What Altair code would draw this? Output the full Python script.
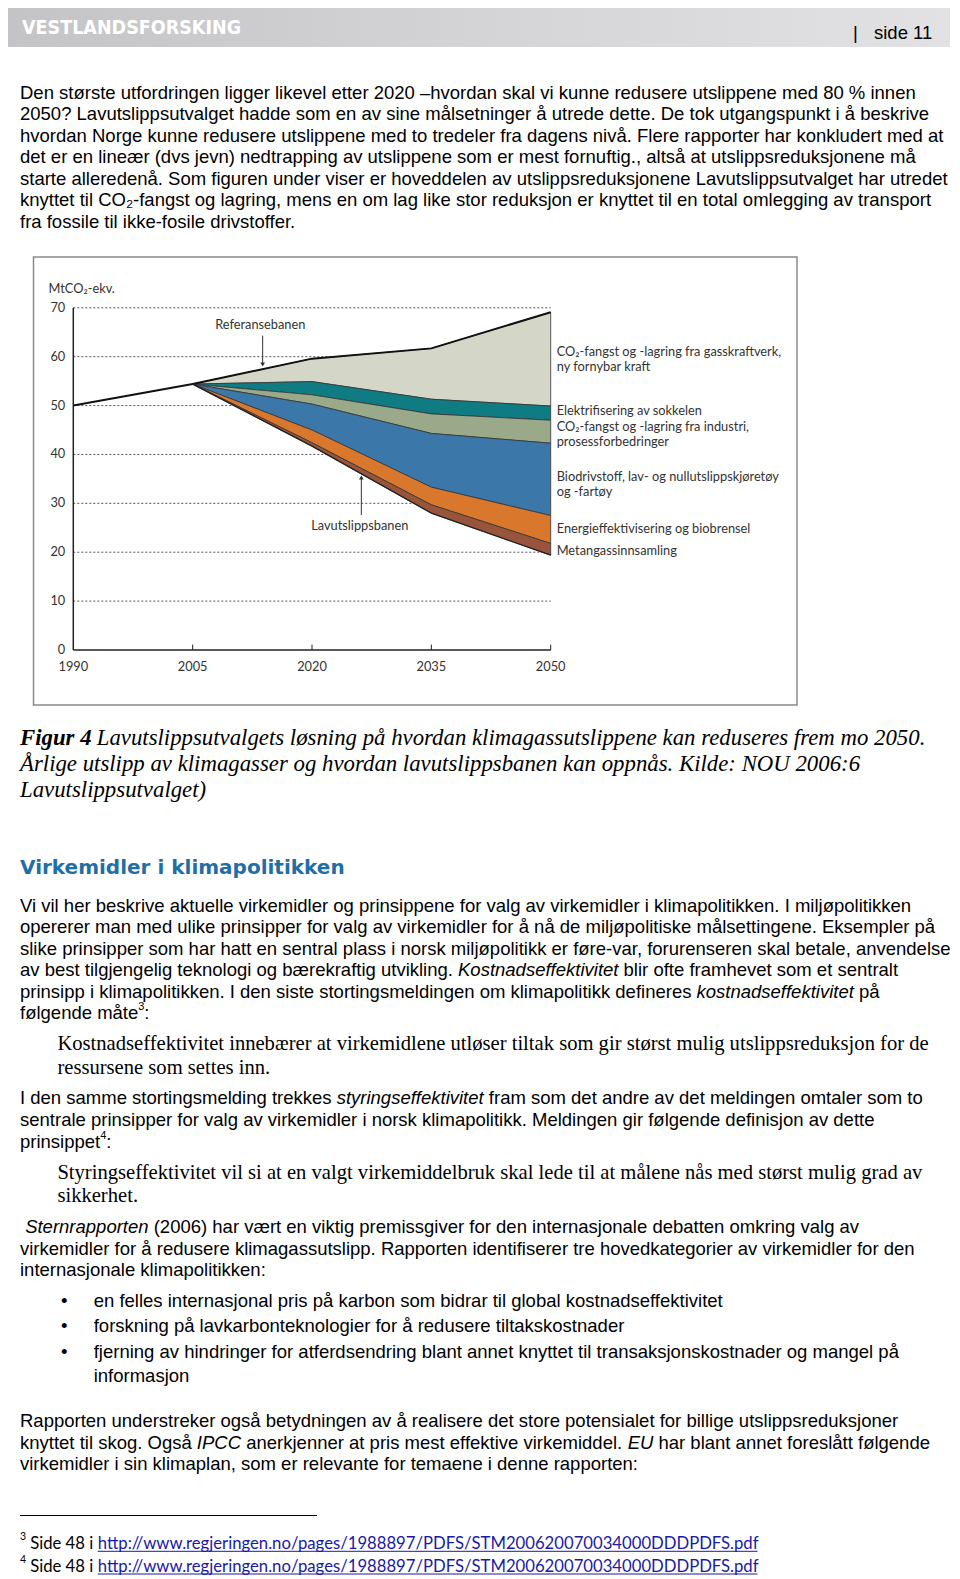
import altair as alt
import pandas as pd

# ---------------- chart data ----------------
years_ref = [1990, 2005, 2020, 2035, 2050]
referansebanen = [50.0, 54.4, 59.6, 61.7, 69.1]

years_path = [2005, 2020, 2035, 2050]
top_gass = [54.4, 59.6, 61.7, 69.1]
top_sokkel = [54.4, 54.9, 51.3, 49.9]
top_industri = [54.4, 52.2, 48.3, 47.0]
top_transport = [54.4, 50.3, 44.3, 42.3]
top_energi = [54.4, 45.0, 33.3, 27.5]
top_metan = [54.4, 42.4, 29.7, 21.8]
lavutslippsbanen = [54.4, 41.7, 28.0, 19.4]

band_names = ["gass", "sokkel", "industri", "transport", "energi", "metan"]
band_colors = ["#d4d7c7", "#0f7c84", "#9ba98b", "#3b77a8", "#d9782d", "#98553b"]

y_ticks = [0, 10, 20, 30, 40, 50, 60, 70]
x_ticks = [1990, 2005, 2020, 2035, 2050]

right_labels = [
    ["CO₂-fangst og -lagring fra gasskraftverk,", "ny fornybar kraft"],
    ["Elektrifisering av sokkelen"],
    ["CO₂-fangst og -lagring fra industri,", "prosessforbedringer"],
    ["Biodrivstoff, lav- og nullutslippskjøretøy", "og -fartøy"],
    ["Energieffektivisering og biobrensel"],
    ["Metangassinnsamling"],
]

# ---------------- page text ----------------
header_logo = "VESTLANDSFORSKING"
header_page = "side 11"

para1 = [
    "Den største utfordringen ligger likevel etter 2020 –hvordan skal vi kunne redusere utslippene med 80 % innen",
    "2050? Lavutslippsutvalget hadde som en av sine målsetninger å utrede dette. De tok utgangspunkt i å beskrive",
    "hvordan Norge kunne redusere utslippene med to tredeler fra dagens nivå. Flere rapporter har konkludert med at",
    "det er en lineær (dvs jevn) nedtrapping av utslippene som er mest fornuftig., altså at utslippsreduksjonene må",
    "starte alleredenå. Som figuren under viser er hoveddelen av utslippsreduksjonene Lavutslippsutvalget har utredet",
    "knyttet til CO₂-fangst og lagring, mens en om lag like stor reduksjon er knyttet til en total omlegging av transport",
    "fra fossile til ikke-fosile drivstoffer.",
]

caption_bold = "Figur 4"
caption = [
    "Lavutslippsutvalgets løsning på hvordan klimagassutslippene kan reduseres frem mo 2050.",
    "Årlige utslipp av klimagasser og hvordan lavutslippsbanen kan oppnås. Kilde: NOU 2006:6",
    "Lavutslippsutvalget)",
]

heading = "Virkemidler i klimapolitikken"

para2 = [
    "Vi vil her beskrive aktuelle virkemidler og prinsippene for valg av virkemidler i klimapolitikken. I miljøpolitikken",
    "opererer man med ulike prinsipper for valg av virkemidler for å nå de miljøpolitiske målsettingene. Eksempler på",
    "slike prinsipper som har hatt en sentral plass i norsk miljøpolitikk er føre-var, forurenseren skal betale, anvendelse",
]
para2_l4 = ["av best tilgjengelig teknologi og bærekraftig utvikling. ", "Kostnadseffektivitet", " blir ofte framhevet som et sentralt"]
para2_l5 = ["prinsipp i klimapolitikken. I den siste stortingsmeldingen om klimapolitikk defineres ", "kostnadseffektivitet", " på"]
para2_l6 = ["følgende måte", "3", ":"]

quote1 = [
    "Kostnadseffektivitet innebærer at virkemidlene utløser tiltak som gir størst mulig utslippsreduksjon for de",
    "ressursene som settes inn.",
]

para3_l1 = ["I den samme stortingsmelding trekkes ", "styringseffektivitet", " fram som det andre av det meldingen omtaler som to"]
para3_l2 = "sentrale prinsipper for valg av virkemidler i norsk klimapolitikk. Meldingen gir følgende definisjon av dette"
para3_l3 = ["prinsippet", "4", ":"]

quote2 = [
    "Styringseffektivitet vil si at en valgt virkemiddelbruk skal lede til at målene nås med størst mulig grad av",
    "sikkerhet.",
]

para4_l1 = [" Sternrapporten", " (2006) har vært en viktig premissgiver for den internasjonale debatten omkring valg av"]
para4_rest = [
    "virkemidler for å redusere klimagassutslipp. Rapporten identifiserer tre hovedkategorier av virkemidler for den",
    "internasjonale klimapolitikken:",
]

bullets = [
    "en felles internasjonal pris på karbon som bidrar til global kostnadseffektivitet",
    "forskning på lavkarbonteknologier for å redusere tiltakskostnader",
    "fjerning av hindringer for atferdsendring blant annet knyttet til transaksjonskostnader og mangel på",
]
bullet_cont = "informasjon"

para5_l1 = "Rapporten understreker også betydningen av å realisere det store potensialet for billige utslippsreduksjoner"
para5_l2 = ["knyttet til skog. Også ", "IPCC", " anerkjenner at pris mest effektive virkemiddel. ", "EU", " har blant annet foreslått følgende"]
para5_l3 = "virkemidler i sin klimaplan, som er relevante for temaene i denne rapporten:"

footnote_marks = ["3", "4"]
footnote_text = "Side 48 i "
footnote_link = "http://www.regjeringen.no/pages/1988897/PDFS/STM200620070034000DDDPDFS.pdf"

# ---------------- helpers ----------------
SANS = "Liberation Sans"
SERIF = "Liberation Serif"
CHART_FONT = "Lato"
BODY = 18.5
ONE = pd.DataFrame({"k": [0]})
M = 8  # page margin

# Arial / Liberation Sans advance widths (1/1000 em) used to run mixed-style segments on one line
_AW = {" ": 278, ".": 278, ",": 278, ":": 278, ";": 278, "(": 333, ")": 333, "-": 333, "–": 556,
       "%": 889, "?": 556, "a": 556, "b": 556, "c": 500, "d": 556, "e": 556, "f": 278, "g": 556,
       "h": 556, "i": 222, "j": 222, "k": 500, "l": 222, "m": 833, "n": 556, "o": 556, "p": 556,
       "q": 556, "r": 333, "s": 500, "t": 278, "u": 556, "v": 500, "w": 722, "x": 500, "y": 500,
       "z": 500, "å": 556, "ø": 611, "æ": 889, "A": 667, "B": 667, "C": 722, "D": 722, "E": 667,
       "F": 611, "G": 778, "H": 722, "I": 278, "J": 500, "K": 667, "L": 556, "M": 833, "N": 722,
       "O": 778, "P": 667, "Q": 778, "R": 722, "S": 667, "T": 611, "U": 722, "V": 667, "W": 944,
       "X": 667, "Y": 667, "Z": 611}


def tw(s, size):
    return sum(_AW.get(c, 556) for c in s) * size / 1000.0


def T(text, x, y, size=BODY, font=SANS, style="normal", weight="normal",
      color="#000000", lh=21.5, align="left"):
    """x = left page px, y = visual centre of the first line (page px)."""
    return alt.Chart(ONE).mark_text(
        text=text, font=font, fontSize=size, fontStyle=style, fontWeight=weight,
        color=color, align=align, baseline="alphabetic", lineHeight=lh,
    ).encode(x=alt.value(x - M), y=alt.value(y - M + 0.3 * size))


def flow(parts, x0, y):
    """parts: (text, style, size, dy) run one after another on a line."""
    out, x = [], x0
    for text, style, size, dy in parts:
        size = size or BODY
        lead = len(text) - len(text.lstrip(" "))
        out.append(T(text.lstrip(" "), x + tw(" " * lead, size), y + dy, size=size, style=style))
        x += tw(text, size)
    return out


def R(x1, x2, y1, y2, color="#000000", width=1.0):
    return alt.Chart(ONE).mark_rule(color=color, strokeWidth=width).encode(
        x=alt.value(x1 - M), x2=alt.value(x2 - M), y=alt.value(y1 - M), y2=alt.value(y2 - M))


# chart scales: page px of axes
X0, X1 = 73.3, 550.7   # 1990, 2050
Y0, Y70 = 650.0, 307.8  # 0, 70
xs = alt.Scale(domain=[1990, 2050], range=[X0 - M, X1 - M], nice=False, zero=False)
ys = alt.Scale(domain=[0, 70], range=[Y0 - M, Y70 - M], nice=False)


def XQ(field=None, datum=None):
    if datum is not None:
        return alt.X(datum=datum, type="quantitative", scale=xs, axis=None)
    return alt.X(field, type="quantitative", scale=xs, axis=None)


def YQ(field=None, datum=None):
    if datum is not None:
        return alt.Y(datum=datum, type="quantitative", scale=ys, axis=None)
    return alt.Y(field, type="quantitative", scale=ys, axis=None, stack=None)


layers = []

# ---------------- header ----------------
grad = alt.LinearGradient(
    gradient="linear", x1=0, x2=1, y1=0, y2=0,
    stops=[alt.GradientStop(color="#c4c4c6", offset=0),
           alt.GradientStop(color="#d4d4d6", offset=0.5),
           alt.GradientStop(color="#e2e2e4", offset=1)])
layers.append(alt.Chart(ONE).mark_rect(color=grad).encode(
    x=alt.value(0), x2=alt.value(950 - M), y=alt.value(0), y2=alt.value(47 - M)))
layers.append(T(header_logo, 22, 28, size=19.5, font="DejaVu Sans Condensed, Roboto, sans-serif",
                weight="bold", color="#ffffff"))
layers.append(T("|", 853, 33.5))
layers.append(T(header_page, 874, 33.5))

# ---------------- paragraph 1 ----------------
layers.append(T(para1, 20, 93, lh=21.5))

# ---------------- figure ----------------
layers.append(alt.Chart(ONE).mark_rect(fillOpacity=0, stroke="#8a8a8a", strokeWidth=1.5).encode(
    x=alt.value(33.5 - M), x2=alt.value(797 - M), y=alt.value(257 - M), y2=alt.value(705 - M)))

grid_df = pd.DataFrame({"v": y_ticks[1:]})
layers.append(alt.Chart(grid_df).mark_rule(color="#555555", strokeWidth=1, strokeDash=[2, 2]).encode(
    y=YQ("v"), x=XQ(datum=1990), x2=alt.X2(datum=2050)))

band_tops = [top_gass, top_sokkel, top_industri, top_transport, top_energi, top_metan]
band_bots = [top_sokkel, top_industri, top_transport, top_energi, top_metan, lavutslippsbanen]
rows = []
for name, tops, bots in zip(band_names, band_tops, band_bots):
    for yr, t, b in zip(years_path, tops, bots):
        rows.append({"year": yr, "top": t, "bottom": b, "band": name})
band_df = pd.DataFrame(rows)
layers.append(alt.Chart(band_df).mark_area(stroke="#333333", strokeWidth=0.8, fillOpacity=1, interpolate="linear").encode(
    x=XQ("year"), y=YQ("top"), y2="bottom:Q",
    color=alt.Color("band:N", scale=alt.Scale(domain=band_names, range=band_colors), legend=None)))

ref_df = pd.DataFrame({"year": years_ref, "v": referansebanen})
layers.append(alt.Chart(ref_df).mark_line(color="#111111", strokeWidth=2).encode(x=XQ("year"), y=YQ("v")))
low_df = pd.DataFrame({"year": years_path, "v": lavutslippsbanen})
layers.append(alt.Chart(low_df).mark_line(color="#222222", strokeWidth=1.3).encode(x=XQ("year"), y=YQ("v")))

# axes
layers.append(alt.Chart(ONE).mark_rule(color="#222222", strokeWidth=1.5).encode(
    x=XQ(datum=1990), y=YQ(datum=0), y2=alt.Y2(datum=70)))
layers.append(alt.Chart(ONE).mark_rule(color="#222222", strokeWidth=1.5).encode(
    x=XQ(datum=1990), x2=alt.X2(datum=2050), y=YQ(datum=0)))
xt_df = pd.DataFrame({"year": x_ticks[1:]})
layers.append(alt.Chart(xt_df).mark_rule(color="#222222", strokeWidth=1).encode(
    x=XQ("year"), y=YQ(datum=0), y2=alt.Y2(datum=1.1)))
yl_df = pd.DataFrame({"v": y_ticks})
layers.append(alt.Chart(yl_df).mark_text(font=CHART_FONT, fontSize=12.8, color="#333333", align="right",
                                         baseline="middle", dx=-8).encode(
    x=XQ(datum=1990), y=YQ("v"), text="v:Q"))
xl_df = pd.DataFrame({"year": x_ticks})
layers.append(alt.Chart(xl_df).mark_text(font=CHART_FONT, fontSize=12.8, color="#333333", align="center",
                                         baseline="middle", dy=17).encode(
    x=XQ("year"), y=YQ(datum=0), text=alt.Text("year:Q", format="d")))
layers.append(T("MtCO₂-ekv.", 48.5, 289, size=12.8, font=CHART_FONT, color="#333333"))

# annotations inside the figure
layers.append(alt.Chart(ONE).mark_text(text="Referansebanen", font=CHART_FONT, fontSize=12.8, color="#333333",
                                       align="center", baseline="middle").encode(
    x=XQ(datum=2013.5), y=YQ(datum=66.5)))
layers.append(alt.Chart(ONE).mark_rule(color="#333333", strokeWidth=1).encode(
    x=XQ(datum=2013.8), y=YQ(datum=64.3), y2=alt.Y2(datum=58.6)))
layers.append(alt.Chart(ONE).mark_point(shape="triangle-down", size=22, filled=True, color="#333333", opacity=1).encode(
    x=XQ(datum=2013.8), y=YQ(datum=58.4)))
layers.append(alt.Chart(ONE).mark_text(text="Lavutslippsbanen", font=CHART_FONT, fontSize=12.8, color="#333333",
                                       align="center", baseline="middle").encode(
    x=XQ(datum=2026.0), y=YQ(datum=25.4)))
layers.append(alt.Chart(ONE).mark_rule(color="#333333", strokeWidth=1).encode(
    x=XQ(datum=2026.2), y=YQ(datum=27.6), y2=alt.Y2(datum=35.0)))
layers.append(alt.Chart(ONE).mark_point(shape="triangle-up", size=22, filled=True, color="#333333", opacity=1).encode(
    x=XQ(datum=2026.2), y=YQ(datum=35.3)))

label_y = [61.0, 48.9, 45.7, 35.3, 24.7, 20.25]
for lines, yv in zip(right_labels, label_y):
    layers.append(alt.Chart(ONE).mark_text(text=lines, font=CHART_FONT, fontSize=12.8, color="#333333",
                                           align="left", baseline="middle", lineHeight=15).encode(
        x=XQ(datum=2050.75), y=YQ(datum=yv)))

# ---------------- caption ----------------
CAP = 22.8
layers.append(T(caption_bold, 20, 738, size=CAP, font=SERIF, style="italic", weight="bold"))
layers.append(T(caption[0], 96.7, 738, size=CAP, font=SERIF, style="italic"))
layers.append(T(caption[1:], 20, 764.3, size=CAP, font=SERIF, style="italic", lh=26.2))

# ---------------- heading ----------------
layers.append(T(heading, 20, 868, size=20, font="DejaVu Sans", weight="bold", color="#1f6ea6"))

# ---------------- paragraph 2 ----------------
L = 21.5
p2y = 906.3
layers.append(T(para2, 20, p2y, lh=L))
layers += flow([(para2_l4[0], "normal", None, 0), (para2_l4[1], "italic", None, 0),
                (para2_l4[2], "normal", None, 0)], 20, p2y + 3 * L)
layers += flow([(para2_l5[0], "normal", None, 0), (para2_l5[1], "italic", None, 0),
                (para2_l5[2], "normal", None, 0)], 20, p2y + 4 * L)
layers += flow([(para2_l6[0], "normal", None, 0), (para2_l6[1], "normal", 11, -7),
                (para2_l6[2], "normal", None, 0)], 20, p2y + 5 * L)

# quote 1
QS = 20.6
layers.append(T(quote1, 57.4, 1044.3, size=QS, font=SERIF, lh=24))

# ---------------- paragraph 3 ----------------
p3y = 1098.6
layers += flow([(para3_l1[0], "normal", None, 0), (para3_l1[1], "italic", None, 0),
                (para3_l1[2], "normal", None, 0)], 20, p3y)
layers.append(T(para3_l2, 20, p3y + L))
layers += flow([(para3_l3[0], "normal", None, 0), (para3_l3[1], "normal", 11, -7),
                (para3_l3[2], "normal", None, 0)], 20, p3y + 2 * L + 0.7)

# quote 2
layers.append(T(quote2, 57.4, 1173.2, size=QS, font=SERIF, lh=23))

# ---------------- paragraph 4 ----------------
p4y = 1227.5
layers += flow([(para4_l1[0], "italic", None, 0), (para4_l1[1], "normal", None, 0)], 20, p4y)
layers.append(T(para4_rest, 20, p4y + L, lh=L + 0.2))

# bullets
b_y = [1301.0, 1326.2, 1352.4]
for text, yy in zip(bullets, b_y):
    layers.append(T("•", 61, yy))
    layers.append(T(text, 93.7, yy))
layers.append(T(bullet_cont, 93.7, 1376.6))

# ---------------- paragraph 5 ----------------
p5y = 1421.9
layers.append(T(para5_l1, 20, p5y))
layers += flow([(para5_l2[0], "normal", None, 0), (para5_l2[1], "italic", None, 0),
                (para5_l2[2], "normal", None, 0), (para5_l2[3], "italic", None, 0),
                (para5_l2[4], "normal", None, 0)], 20, p5y + 21.1)
layers.append(T(para5_l3, 20, p5y + 42.3))

# ---------------- footnotes ----------------
layers.append(R(20, 317, 1515.5, 1515.5, color="#000000", width=1))
fn_y = [1543.8, 1566.5]
for mark, yy in zip(footnote_marks, fn_y):
    layers.append(T(mark, 20, yy - 7, size=10.5, font=CHART_FONT))
    layers.append(T(footnote_text, 30.2, yy, size=16.7, font=CHART_FONT))
    layers.append(T(footnote_link, 97.7, yy, size=16.7, font=CHART_FONT, color="#1a1aa6"))
    layers.append(R(97.7, 757.5, yy + 7.5, yy + 7.5, color="#1a1aa6", width=1))

chart = alt.layer(*layers).properties(
    width=944, height=1571, padding=0,
    autosize=alt.AutoSizeParams(type="none"),
    background="#ffffff",
).configure_view(strokeWidth=0)

chart.save("out.html", embed_options={"renderer": "svg", "actions": False})
